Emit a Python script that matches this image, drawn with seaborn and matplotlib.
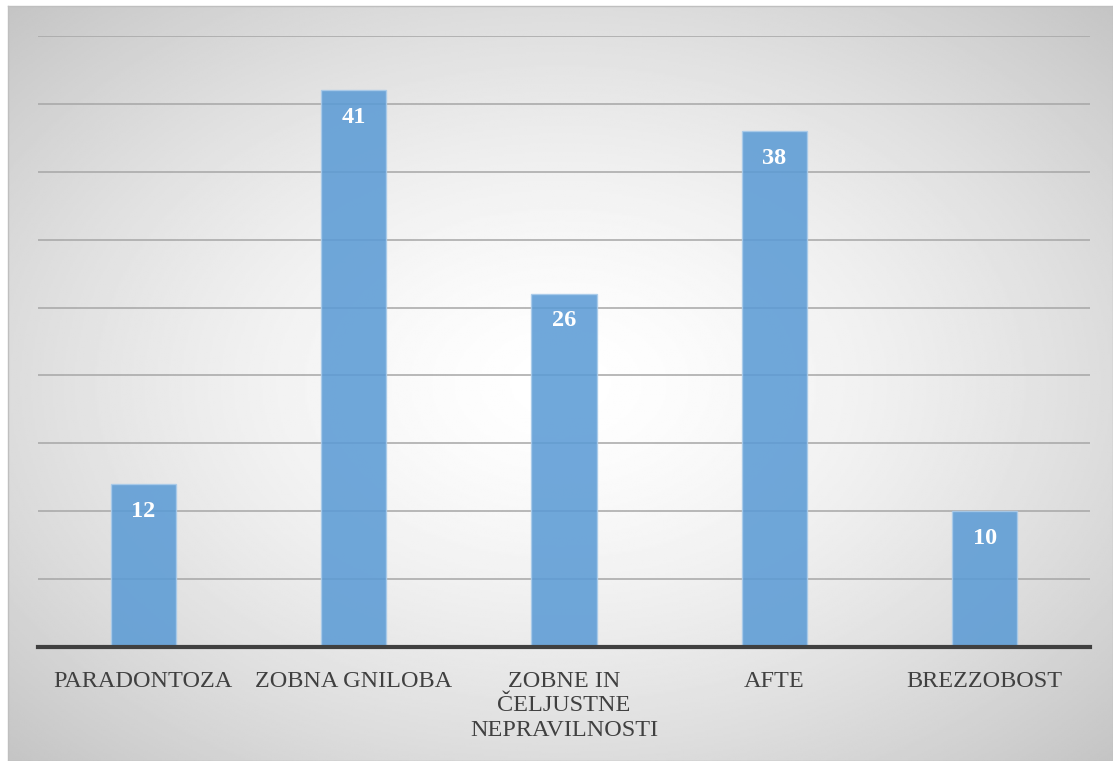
import numpy as np
import matplotlib
matplotlib.use("Agg")
import matplotlib.pyplot as plt
import seaborn as sns

# data
categories = ["PARADONTOZA", "ZOBNA GNILOBA", "ZOBNE IN\nČELJUSTNE\nNEPRAVILNOSTI", "AFTE", "BREZZOBOST"]
values = [12, 41, 26, 38, 10]

sns.set_theme(style="white")
plt.rcParams['font.family'] = ['Liberation Serif', 'DejaVu Serif']

W, H = 1113, 761
fig = plt.figure(figsize=(W / 100, H / 100), dpi=100)
fig.patch.set_facecolor("white")

# radial gradient background (white centre, grey edges)
bg = fig.add_axes([8 / W, 0, (W - 8) / W, (H - 6) / H])
yy, xx = np.mgrid[-1:1:400j, -1:1:600j]
r = np.sqrt(xx ** 2 + yy ** 2) / np.sqrt(2)
shade = 1.0 - 0.23 * np.clip(r, 0, 1) ** 1.5
bg.imshow(shade, cmap="gray", vmin=0, vmax=1, aspect="auto", extent=[0, 1, 0, 1])
bg.set_xticks([])
bg.set_yticks([])
for s in bg.spines.values():
    s.set_color("#bfbfbf")
    s.set_linewidth(1.0)

# main plot
ax = fig.add_axes([38 / W, 114 / H, (1090 - 38) / W, (647 - 36) / H])
ax.patch.set_alpha(0)

sns.barplot(x=categories, y=values, color="#5B9BD5", saturation=1, width=0.31,
            alpha=0.87, edgecolor="#a9cbea", linewidth=1, ax=ax)

ax.set_ylim(0, 45)
ax.set_xlim(-0.5, len(categories) - 0.5)
ax.set_yticks(np.arange(5, 50, 5))
ax.yaxis.grid(True, color="#a6a6a6", linewidth=1.1)
ax.set_axisbelow(True)
ax.set_yticklabels([])
ax.tick_params(axis="y", length=0)
ax.tick_params(axis="x", length=0, pad=17, labelsize=17.5, labelcolor="#404040")
for lab in ax.get_xticklabels():
    lab.set_verticalalignment("top")
    lab.set_linespacing(1.22)
ax.set_xlabel("")
ax.set_ylabel("")

for s in ["top", "right", "left"]:
    ax.spines[s].set_visible(False)
ax.spines["bottom"].set_color("#404040")
ax.spines["bottom"].set_linewidth(3)

# value labels inside bars
for i, v in enumerate(values):
    ax.annotate(str(v), (i, v), xytext=(0, -27), textcoords="offset pixels",
                ha="center", va="center", color="white", fontsize=17.5,
                fontweight="bold")

fig.savefig("out.png", dpi=100)
